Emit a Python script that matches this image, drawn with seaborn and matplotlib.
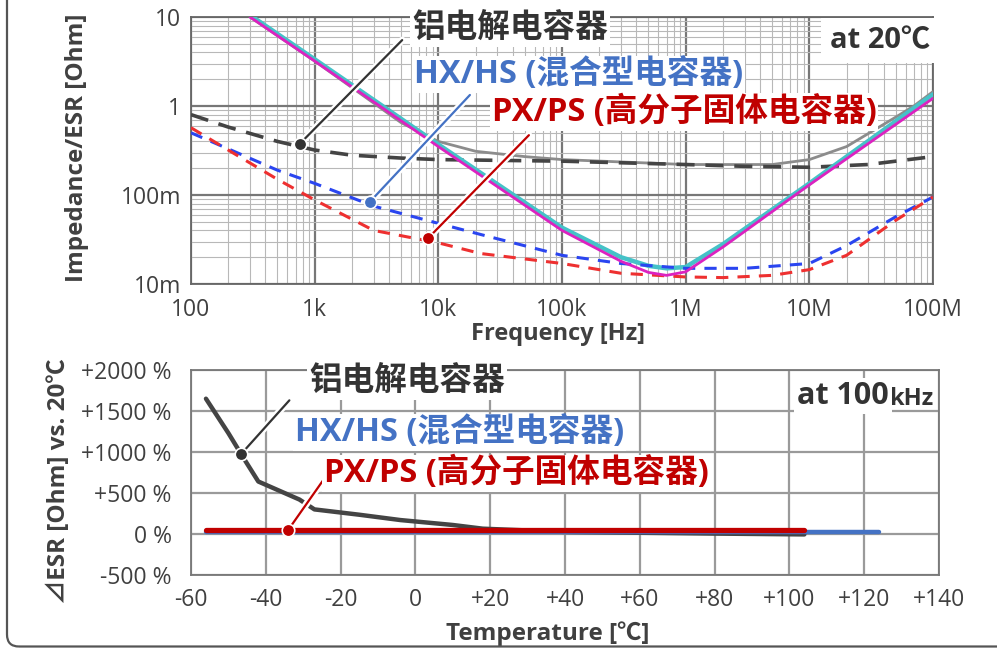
import numpy as np
import pandas as pd
import matplotlib
matplotlib.use("Agg")
import matplotlib.pyplot as plt
import matplotlib.patheffects as pe
from matplotlib.patches import FancyBboxPatch
import seaborn as sns

sns.set_style("white")
FONTS = ["Open Sans", "Noto Sans CJK SC", "DejaVu Sans"]
plt.rcParams["font.family"] = FONTS
plt.rcParams["axes.unicode_minus"] = False

# ---- top chart: impedance / ESR vs frequency (at 20 C) ----
al_imp_f = [300, 1e3, 5e3, 1e4, 2e4, 5e4, 1e5, 1e6, 5e6, 1e7, 2e7, 5e7, 7e7, 1e8]
al_imp_z = [10, 3.2, 0.65, 0.40, 0.31, 0.27, 0.25, 0.22, 0.22, 0.25, 0.35, 0.75, 1.0, 1.45]

al_esr_f = [100, 200, 500, 1e3, 2e3, 5e3, 1e4, 1e5, 1e6, 3e6, 1e7, 3e7, 1e8]
al_esr_z = [0.80, 0.58, 0.40, 0.32, 0.28, 0.26, 0.25, 0.24, 0.22, 0.21, 0.205, 0.22, 0.27]

hx_imp_f = [300, 1e3, 1e4, 1e5, 3e5, 5e5, 7e5, 1e6, 2e6, 1e7, 1e8]
hx_imp_z = [10.5, 3.35, 0.37, 0.043, 0.020, 0.016, 0.015, 0.0155, 0.028, 0.135, 1.35]

hx_esr_f = [100, 200, 500, 1e3, 3e3, 1e4, 2.2e4, 1e5, 3e5, 1e6, 3e6, 1e7, 2e7, 5e7, 1e8]
hx_esr_z = [0.50, 0.33, 0.19, 0.135, 0.075, 0.048, 0.036, 0.021, 0.017, 0.015, 0.015,
            0.017, 0.027, 0.057, 0.095]

px_imp_f = [300, 1e3, 1e4, 1e5, 3e5, 5e5, 7e5, 1e6, 2e6, 1e7, 1e8]
px_imp_z = [10, 3.2, 0.35, 0.040, 0.018, 0.0135, 0.0125, 0.0137, 0.026, 0.13, 1.22]

px_esr_f = [100, 200, 500, 1e3, 3e3, 1e4, 2.2e4, 1e5, 3e5, 1e6, 2e6, 5e6, 1e7, 2e7, 5e7, 1e8]
px_esr_z = [0.57, 0.32, 0.15, 0.088, 0.040, 0.029, 0.022, 0.017, 0.0132, 0.012, 0.0118,
            0.0125, 0.0145, 0.021, 0.052, 0.095]

freq_ticks = [1e2, 1e3, 1e4, 1e5, 1e6, 1e7, 1e8]
freq_labels = ["100", "1k", "10k", "100k", "1M", "10M", "100M"]
imp_ticks = [0.01, 0.1, 1, 10]
imp_labels = ["10m", "100m", "1", "10"]

# ---- bottom chart: delta ESR vs temperature (at 100 kHz) ----
al_temp = [-56, -50, -46, -42, -36, -31, -27, -15, -4, 10, 18, 40, 80, 104]
al_desr = [1650, 1230, 930, 640, 520, 420, 300, 235, 170, 110, 65, 25, 5, -5]
hx_temp = [-56, 124]
hx_desr = [25, 25]
px_temp = [-56, 104]
px_desr = [50, 50]

temp_ticks = [-60, -40, -20, 0, 20, 40, 60, 80, 100, 120, 140]
temp_labels = ["-60", "-40", "-20", "0", "+20", "+40", "+60", "+80", "+100", "+120", "+140"]
pct_ticks = [-500, 0, 500, 1000, 1500, 2000]
pct_labels = ["-500 %", "0 %", "+500 %", "+1000 %", "+1500 %", "+2000 %"]

DARK = "#333333"
BLUE = "#4472C4"
RED = "#C00000"
TICK = "#404040"

halo = [pe.Stroke(linewidth=5, foreground="white"), pe.Normal()]


def log_interp(x, xs, ys):
    return 10 ** np.interp(np.log10(x), np.log10(xs), np.log10(ys))


fig = plt.figure(figsize=(9.97, 6.49), dpi=100)

# rounded outer frame (only left and bottom edges visible)
frame = FancyBboxPatch((0.07, 0.025), 12, 8, boxstyle="round,pad=0,rounding_size=0.12",
                       transform=fig.dpi_scale_trans, fill=False, edgecolor="#555555",
                       linewidth=1.6, zorder=0)
fig.patches.append(frame)

ax1 = fig.add_axes([191 / 997, 1 - 284 / 649, 742 / 997, 267 / 649])
ax2 = fig.add_axes([191 / 997, 1 - 575 / 649, 748 / 997, 205 / 649])

# ---------- top chart ----------
ax1.set_xscale("log")
ax1.set_yscale("log")
ax1.set_xlim(1e2, 1e8)
ax1.set_ylim(0.01, 10)
ax1.grid(which="major", color="#777777", lw=1.6)
ax1.grid(which="minor", color="#b8b8b8", lw=0.8)
ax1.minorticks_on()

sns.lineplot(x=al_imp_f, y=al_imp_z, ax=ax1, color="#8c8c8c", lw=2.0, sort=False, zorder=3)
sns.lineplot(x=al_esr_f, y=al_esr_z, ax=ax1, color="#444444", lw=2.6, sort=False,
             linestyle=(0, (5, 3)), zorder=3)
sns.lineplot(x=hx_imp_f, y=hx_imp_z, ax=ax1, color="#45c2c8", lw=3.2, sort=False, zorder=4)
sns.lineplot(x=px_imp_f, y=px_imp_z, ax=ax1, color="#dc22c0", lw=2.0, sort=False, zorder=5)
sns.lineplot(x=hx_esr_f, y=hx_esr_z, ax=ax1, color="#2a45f0", lw=2.2, sort=False,
             linestyle=(0, (4, 3)), zorder=4)
sns.lineplot(x=px_esr_f, y=px_esr_z, ax=ax1, color="#ee3030", lw=2.2, sort=False,
             linestyle=(0, (4, 3)), zorder=4)

ax1.set_xticks(freq_ticks, freq_labels)
ax1.set_yticks(imp_ticks, imp_labels)
ax1.tick_params(which="both", length=0)
ax1.tick_params(axis="x", pad=10, labelsize=16.5, labelcolor=TICK)
ax1.tick_params(axis="y", pad=7, labelsize=16.5, labelcolor=TICK)
for s in ax1.spines.values():
    s.set_color("#666666")
    s.set_linewidth(1.3)

ax1.set_xlabel("Frequency [Hz]", fontsize=17, fontweight="bold", color=TICK)
ax1.xaxis.set_label_coords(0.495, -0.142)
ax1.set_ylabel("Impedance/ESR [Ohm]", fontsize=17.5, fontweight="bold", color=TICK)
ax1.yaxis.set_label_coords(-0.138, 0.51)

# callouts: marker on curve + leader line to label
callouts_top = [
    (760, al_esr_f, al_esr_z, (5.1e3, 5.5), DARK),
    (2.8e3, hx_esr_f, hx_esr_z, (1.8e4, 1.33), BLUE),
    (8.3e3, px_esr_f, px_esr_z, (5.4e4, 0.47), RED),
]
for f, xs, ys, end, col in callouts_top:
    z = log_interp(f, xs, ys) * 1.08
    ax1.plot([f, end[0]], [z, end[1]], color=col, lw=1.6, path_effects=halo, zorder=7)
    ax1.plot([f], [z], "o", color=col, ms=9, mec="white", mew=1.2, zorder=8)

txt_kw = dict(transform=ax1.transAxes, va="center", fontweight="bold", zorder=9,
              bbox=dict(facecolor="white", edgecolor="none", pad=1.5))
ax1.text(0.298, 0.958, "铝电解电容器", fontsize=23.5, color=DARK, **txt_kw)
ax1.text(0.300, 0.783, "HX/HS (混合型电容器)", fontsize=23.5, color=BLUE, **txt_kw)
ax1.text(0.405, 0.644, "PX/PS (高分子固体电容器)", fontsize=23.5, color=RED, **txt_kw)
ax1.text(0.996, 0.912, "at 20℃", fontsize=21, color=DARK, ha="right",
         **{k: v for k, v in txt_kw.items() if k != "bbox"},
         bbox=dict(facecolor="white", edgecolor="none", pad=6))

# ---------- bottom chart ----------
ax2.set_xlim(-60, 140)
ax2.set_ylim(-500, 2000)
ax2.grid(color="#9a9a9a", lw=1.6)

sns.lineplot(x=al_temp, y=al_desr, ax=ax2, color="#444444", lw=3.2, sort=False, zorder=3)
sns.lineplot(x=hx_temp, y=hx_desr, ax=ax2, color=BLUE, lw=3.2, sort=False, zorder=4)
sns.lineplot(x=px_temp, y=px_desr, ax=ax2, color=RED, lw=3.8, sort=False, zorder=5)

ax2.set_xticks(temp_ticks, temp_labels)
ax2.set_yticks(pct_ticks, pct_labels)
ax2.tick_params(which="both", length=0)
ax2.tick_params(axis="x", pad=9, labelsize=16.5, labelcolor=TICK)
ax2.tick_params(axis="y", pad=14, labelsize=16.5, labelcolor=TICK)
for s in ax2.spines.values():
    s.set_color("#777777")
    s.set_linewidth(1.3)

ax2.set_xlabel("Temperature [℃]", fontsize=17.5, fontweight="bold", color=TICK)
ax2.xaxis.set_label_coords(0.477, -0.225)
ax2.set_ylabel("⊿ESR [Ohm] vs. 20℃", fontsize=17.5, fontweight="bold", color=TICK)
ax2.yaxis.set_label_coords(-0.160, 0.46)

callouts_bot = [
    (-46.6, al_temp, al_desr, (-33.7, 1630), DARK),
    (-34.0, px_temp, px_desr, (-24.6, 660), RED),
]
for t, xs, ys, end, col in callouts_bot:
    v = np.interp(t, xs, ys)
    ax2.plot([t, end[0]], [v, end[1]], color=col, lw=1.6, path_effects=halo, zorder=7)
    ax2.plot([t], [v], "o", color=col, ms=9, mec="white", mew=1.2, zorder=8)

txt_kw2 = dict(txt_kw, transform=ax2.transAxes)
ax2.text(0.158, 0.945, "铝电解电容器", fontsize=23.5, color=DARK, **txt_kw2)
ax2.text(0.139, 0.697, "HX/HS (混合型电容器)", fontsize=23.5, color=BLUE, **txt_kw2)
ax2.text(0.178, 0.497, "PX/PS (高分子固体电容器)", fontsize=23.5, color=RED, **txt_kw2)
khz = ax2.text(0.992, 0.83, "kHz", fontsize=17, color=DARK, ha="right", va="baseline",
               fontweight="bold", transform=ax2.transAxes, zorder=9)
ax2.annotate("at 100", xy=(0, 0), xycoords=khz, fontsize=22, color=DARK, ha="right",
             va="bottom", fontweight="bold", zorder=9,
             bbox=dict(facecolor="white", edgecolor="none", pad=2))

fig.savefig("out.png", dpi=100)
